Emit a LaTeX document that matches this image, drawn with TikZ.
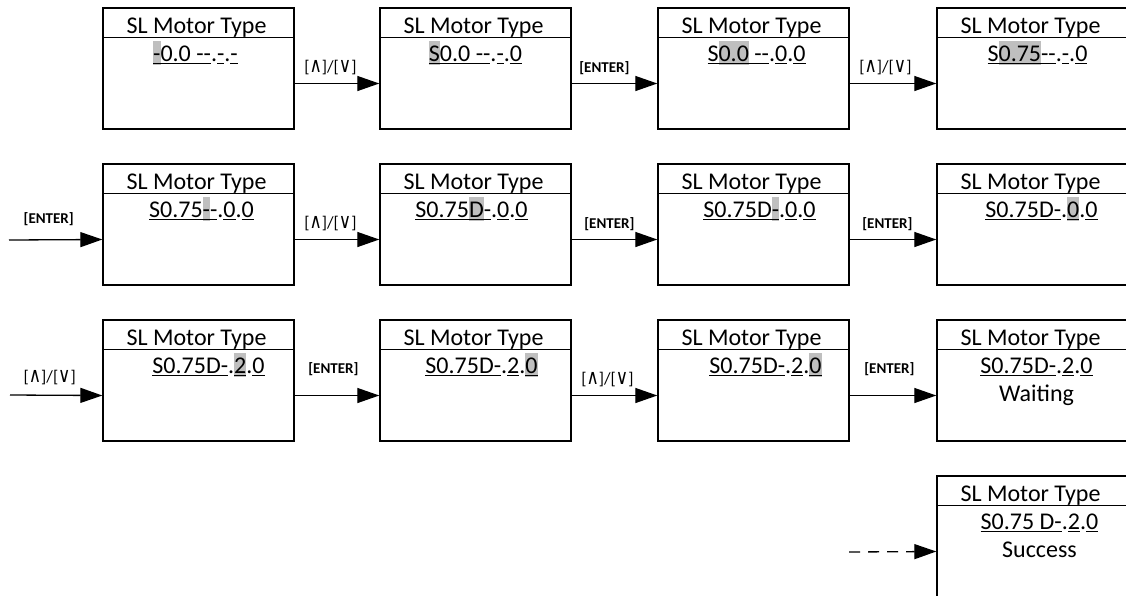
\documentclass[tikz,border=0pt]{standalone}
\usepackage{fontspec}
\usepackage{graphicx}
\setmainfont{Carlito}
\newfontfamily\symfont{DejaVu Sans}
\usetikzlibrary{arrows.meta,positioning}
\definecolor{hlgray}{RGB}{191,191,191}
\newsavebox\ulbox
\newsavebox\hlbox
% grey cursor and underlined digits
\newcommand{\hl}[1]{\sbox\hlbox{#1}\rlap{\textcolor{hlgray}{\rule[-3.5pt]{\wd\hlbox}{23.5pt}}}\usebox\hlbox}
\newcommand{\ul}[1]{\sbox\ulbox{#1}\usebox\ulbox\kern-\wd\ulbox\rule[-3pt]{\wd\ulbox}{1.3pt}}
\newcommand{\symkey}[1]{{\symfont\fontsize{13}{15}\selectfont\scalebox{1.3}[1.6]{#1}}}
\newcommand{\updn}{[\symkey{∧}]/[\symkey{∨}]}
\tikzset{
  scr/.style={draw, line width=1.4pt, minimum width=191pt, minimum height=121pt, inner sep=0pt},
  hdr/.style={font=\fontsize{24}{28.8}\selectfont, anchor=base, inner sep=0pt},
  flow/.style={line width=1.3pt, -{Triangle[length=22pt,width=15pt]}},
  lbl/.style={font=\fontsize{17}{20}\selectfont, pos=0, anchor=south west, inner sep=0pt, xshift=9pt, yshift=8pt},
  key/.style={lbl, font=\fontsize{15}{18}\selectfont\bfseries}
}
% one display screen: name, left, top, text shift, value
\newcommand{\screen}[5]{%
  \node[scr] (#1) at (#2+95.5,#3+60.5) {};
  \draw[line width=1.4pt] ([yshift=-30pt]#1.north west) -- ([yshift=-30pt]#1.north east);
  \node[hdr] (#1h) at ([yshift=-26pt,xshift=-2pt]#1.north) {SL Motor Type};
  \node[hdr] (#1v) at ([yshift=-54pt,xshift=#4]#1.north) {#5};
}
\begin{document}
\begin{tikzpicture}[x=1pt,y=-1pt]
  \clip (0,0) rectangle (1126,595);
  % Linha 1
  \screen{s11}{103}{8}{-3pt}{\ul{\hl{-}0.0 -{}-}.\ul{-}.\ul{-}}
  \screen{s12}{380}{8}{0pt}{\ul{\hl{S}0.0 -{}-}.\ul{-}.\ul{0}}
  \screen{s13}{658}{8}{3pt}{\ul{S\hl{0.0} -{}-}.\ul{0}.\ul{0}}
  \screen{s14}{937}{8}{5pt}{\ul{S\hl{0.75}-{}-}.\ul{-}.\ul{0}}
  % Linha 2
  \screen{s21}{103}{164}{3pt}{\ul{S0.75\hl{-}-}.\ul{0}.\ul{0}}
  \screen{s22}{380}{164}{-4pt}{\ul{S0.75\hl{D}-}.\ul{0}.\ul{0}}
  \screen{s23}{658}{164}{6pt}{\ul{S0.75D\hl{-}}.\ul{0}.\ul{0}}
  \screen{s24}{937}{164}{9pt}{\ul{S0.75D-}.\ul{\hl{0}}.\ul{0}}
  % Linha 3
  \screen{s31}{103}{320}{10pt}{\ul{S0.75D-}.\ul{\hl{2}}.\ul{0}}
  \screen{s32}{380}{320}{6pt}{\ul{S0.75D-}.\ul{2}.\ul{\hl{0}}}
  \screen{s33}{658}{320}{12pt}{\ul{S0.75D-}.\ul{2}.\ul{\hl{0}}}
  \screen{s34}{937}{320}{4pt}{\ul{S0.75D-}.\ul{2}.\ul{0}}
  \node[hdr] (w34) at ([yshift=-28pt]s34v.base) {Waiting};
  % Linha 4
  \screen{s44}{937}{476}{7pt}{\ul{S0.75 D-}.\ul{2}.\ul{0}}
  \node[hdr] (w44) at ([yshift=-28pt]s44v.base) {Success};
  % Entradas
  \coordinate (in2) at (9,240);
  \coordinate (in3) at (10,395);
  \coordinate (in4) at (849,552);
  % Setas
  \draw[flow] ([yshift=-15pt]s11.east) -- ([yshift=-15pt]s12.west) node[lbl] {\updn};
  \draw[flow] ([yshift=-15pt]s12.east) -- ([yshift=-15pt]s13.west) node[key, xshift=-2pt] {[ENTER]};
  \draw[flow] ([yshift=-15pt]s13.east) -- ([yshift=-15pt]s14.west) node[lbl] {\updn};
  \draw[flow] (in2) -- ([yshift=-15pt]s21.west) node[key, xshift=5pt, yshift=6pt] {[ENTER]};
  \draw[flow] ([yshift=-15pt]s21.east) -- ([yshift=-15pt]s22.west) node[lbl] {\updn};
  \draw[flow] ([yshift=-15pt]s22.east) -- ([yshift=-15pt]s23.west) node[key, xshift=3pt] {[ENTER]};
  \draw[flow] ([yshift=-15pt]s23.east) -- ([yshift=-15pt]s24.west) node[key, xshift=3pt] {[ENTER]};
  \draw[flow] (in3) -- ([yshift=-15pt]s31.west) node[lbl, xshift=4pt, yshift=2pt] {\updn};
  \draw[flow] ([yshift=-15pt]s31.east) -- ([yshift=-15pt]s32.west) node[key, xshift=4pt, yshift=11pt] {[ENTER]};
  \draw[flow] ([yshift=-15pt]s32.east) -- ([yshift=-15pt]s33.west) node[lbl] {\updn};
  \draw[flow] ([yshift=-15pt]s33.east) -- ([yshift=-15pt]s34.west) node[key, xshift=5pt, yshift=11pt] {[ENTER]};
  \draw[flow, dash pattern=on 11pt off 8pt] (in4) -- ([yshift=-15pt]s44.west);
\end{tikzpicture}
\end{document}
